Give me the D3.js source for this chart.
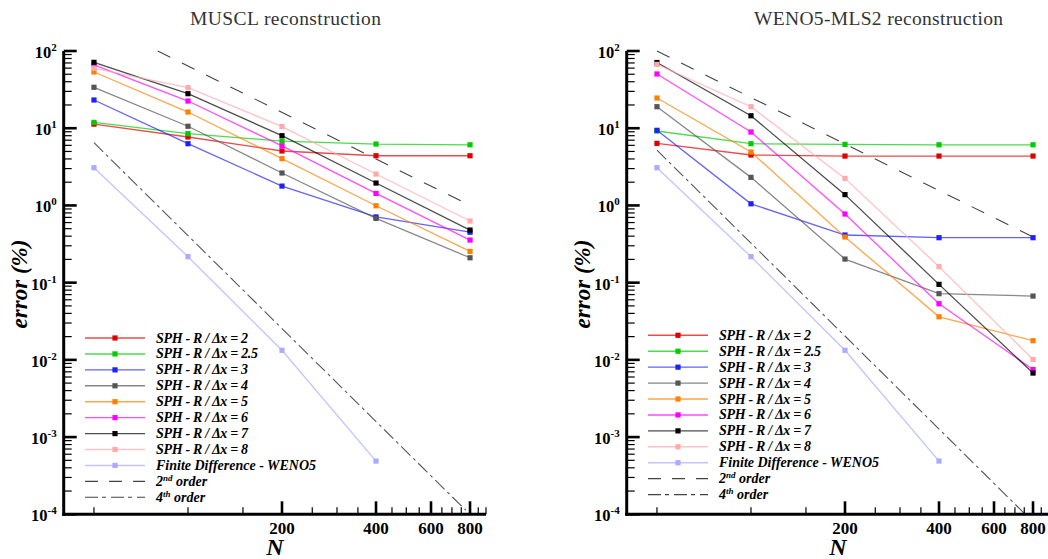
<!DOCTYPE html>
<html>
<head>
<meta charset="utf-8">
<script src="https://cdn.jsdelivr.net/npm/d3@7"></script>
<style>
  html, body { margin: 0; padding: 0; background: #fff; }
  svg { display: block; }
</style>
</head>
<body>
<svg id="chart" width="1048" height="559"></svg>
<script>
// ---------------- DATA ----------------
const N = [50, 100, 200, 400, 800];
const N_FD = [50, 100, 200, 400];

const seriesLabels = [
  "SPH - R / \u0394x = 2",
  "SPH - R / \u0394x = 2.5",
  "SPH - R / \u0394x = 3",
  "SPH - R / \u0394x = 4",
  "SPH - R / \u0394x = 5",
  "SPH - R / \u0394x = 6",
  "SPH - R / \u0394x = 7",
  "SPH - R / \u0394x = 8",
  "Finite Difference - WENO5"
];
const seriesColors = ["#e00000", "#00cc00", "#2020ff", "#555555", "#ff8000", "#ff00ff", "#000000", "#ffaaaa", "#aaaaff"];

// MUSCL reconstruction errors (%)
const muscl_R2  = [11.3, 7.7, 5.07, 4.4, 4.4];
const muscl_R25 = [11.9, 8.5, 6.8, 6.24, 6.1];
const muscl_R3  = [23.2, 6.3, 1.78, 0.71, 0.45];
const muscl_R4  = [33.9, 10.6, 2.63, 0.68, 0.21];
const muscl_R5  = [53.5, 16.2, 4.03, 0.99, 0.254];
const muscl_R6  = [66, 22.5, 5.9, 1.43, 0.356];
const muscl_R7  = [71.3, 28, 8.0, 1.95, 0.48];
const muscl_R8  = [59.7, 33.5, 10.5, 2.55, 0.628];

// WENO5-MLS2 reconstruction errors (%)
const weno_R2  = [6.37, 4.5, 4.36, 4.36, 4.36];
const weno_R25 = [9.2, 6.3, 6.18, 6.1, 6.1];
const weno_R3  = [9.4, 1.05, 0.414, 0.382, 0.382];
const weno_R4  = [19, 2.31, 0.202, 0.072, 0.067];
const weno_R5  = [24.6, 4.92, 0.39, 0.0361, 0.0177];
const weno_R6  = [50.4, 8.93, 0.774, 0.0533, 0.0075];
const weno_R7  = [71, 14.5, 1.38, 0.095, 0.00675];
const weno_R8  = [67, 19, 2.24, 0.161, 0.0101];

// Finite difference WENO5 reference
const fd_WENO5 = [3.08, 0.217, 0.0133, 0.000489];

// Reference slopes [N, error]
const muscl_order2 = [[80, 100], [800, 1]];
const muscl_order4 = [[50, 6.5], [775, 1.13e-4]];
const weno_order2  = [[50, 100], [800, 0.39]];
const weno_order4  = [[50, 5.2], [750, 1.03e-4]];

// Axis ticks
const yMajorExp = [-4, -3, -2, -1, 0, 1, 2];
const xMajorTicks = [200, 400, 600, 800];
const xMinorTicks = [50, 100, 150, 250, 300, 350, 450, 500, 550, 650, 700, 750, 850, 900];

const SERIF = "'Liberation Serif', 'DejaVu Serif', 'Times New Roman', serif";

const panels = [
  { title: "MUSCL reconstruction", titleX: 285.5, titleLen: 191, dx: 0,
    series: [muscl_R2, muscl_R25, muscl_R3, muscl_R4, muscl_R5, muscl_R6, muscl_R7, muscl_R8],
    o2: muscl_order2, o4: muscl_order4, legX: 85, legY: 338 },
  { title: "WENO5-MLS2 reconstruction", titleX: 315.5, titleLen: 249, dx: 563,
    series: [weno_R2, weno_R25, weno_R3, weno_R4, weno_R5, weno_R6, weno_R7, weno_R8],
    o2: weno_order2, o4: weno_order4, legX: 85, legY: 335.3 }
];

// ---------------- DRAW ----------------
const svg = d3.select("#chart").attr("font-family", SERIF);

panels.forEach(p => {
  const g = svg.append("g").attr("transform", `translate(${p.dx},0)`);
  const x = d3.scaleLog().domain([40, 900]).range([63.7, 486]);
  const y = d3.scaleLog().domain([1e-4, 1e2]).range([514.3, 51]);
  const x0 = x.range()[0], x1 = x.range()[1];
  const y0 = y.range()[0], y1 = y.range()[1];

  // Title
  g.append("text").attr("x", p.titleX).attr("y", 25)
    .attr("text-anchor", "middle").attr("font-size", 19.5).attr("fill", "#333")
    .attr("textLength", p.titleLen).attr("lengthAdjust", "spacing")
    .attr("font-family", SERIF)
    .text(p.title);

  // Reference lines
  const line = d3.line().x(d => x(d[0])).y(d => y(d[1]));
  g.append("path").datum(p.o2).attr("d", line)
    .attr("fill", "none").attr("stroke", "#444").attr("stroke-width", 1.1)
    .attr("stroke-dasharray", "14,13");
  g.append("path").datum(p.o4).attr("d", line)
    .attr("fill", "none").attr("stroke", "#555").attr("stroke-width", 1.1)
    .attr("stroke-dasharray", "13,4,3,4");

  // Series
  const all = p.series.map((s, i) => ({ vals: s.map((v, j) => [N[j], v]), color: seriesColors[i] }));
  all.push({ vals: fd_WENO5.map((v, j) => [N_FD[j], v]), color: seriesColors[8] });

  all.forEach(s => {
    g.append("path").datum(s.vals).attr("d", line)
      .attr("fill", "none").attr("stroke", s.color).attr("stroke-width", 1.3)
      .attr("stroke-opacity", 0.7);
  });
  all.forEach(s => {
    g.selectAll(null).data(s.vals).enter().append("rect")
      .attr("x", d => x(d[0]) - 2.6).attr("y", d => y(d[1]) - 2.6)
      .attr("width", 5.2).attr("height", 5.2).attr("fill", s.color);
  });

  // Y axis ticks
  yMajorExp.forEach(e => {
    const v = Math.pow(10, e);
    g.append("line").attr("x1", x0).attr("x2", x0 + 13).attr("y1", y(v)).attr("y2", y(v))
      .attr("stroke", "#000").attr("stroke-width", 2.6);
    const t = g.append("text").attr("x", x0 - 7).attr("y", y(v) + 7)
      .attr("text-anchor", "end").attr("font-weight", "bold").attr("font-size", 16.5)
      .attr("font-family", SERIF);
    t.append("tspan").text("10");
    t.append("tspan").attr("dy", -7).attr("font-size", 11).text(String(e));
    if (e < 2) {
      for (let m = 2; m <= 9; m++) {
        const vv = m * v;
        g.append("line").attr("x1", x0).attr("x2", x0 + 8).attr("y1", y(vv)).attr("y2", y(vv))
          .attr("stroke", "#000").attr("stroke-width", 1.2);
      }
    }
  });

  // X axis ticks
  xMinorTicks.forEach(v => {
    g.append("line").attr("x1", x(v)).attr("x2", x(v)).attr("y1", y0).attr("y2", y0 - 7)
      .attr("stroke", "#000").attr("stroke-width", 1.2);
  });
  xMajorTicks.forEach(v => {
    g.append("line").attr("x1", x(v)).attr("x2", x(v)).attr("y1", y0).attr("y2", y0 - 13)
      .attr("stroke", "#000").attr("stroke-width", 2.6);
    g.append("text").attr("x", x(v)).attr("y", 533.5)
      .attr("text-anchor", "middle").attr("font-weight", "bold").attr("font-size", 17)
      .attr("font-family", SERIF)
      .text(v);
  });

  // Axis lines
  g.append("line").attr("x1", x0).attr("x2", x0).attr("y1", y1).attr("y2", y0 + 1.5)
    .attr("stroke", "#000").attr("stroke-width", 3);
  g.append("line").attr("x1", x0 - 1.5).attr("x2", x1).attr("y1", y0).attr("y2", y0)
    .attr("stroke", "#000").attr("stroke-width", 3);

  // Axis titles
  g.append("text").attr("transform", `translate(26.5,284) rotate(-90)`)
    .attr("text-anchor", "middle").attr("font-weight", "bold").attr("font-style", "italic")
    .attr("font-family", SERIF)
    .attr("font-size", 23).text("error (%)");
  g.append("text").attr("x", 275).attr("y", 555)
    .attr("text-anchor", "middle").attr("font-weight", "bold").attr("font-style", "italic")
    .attr("font-family", SERIF)
    .attr("font-size", 24).text("N");

  // Legend
  const rowH = 15.93;
  seriesLabels.forEach((lab, i) => {
    const yy = p.legY + i * rowH;
    g.append("line").attr("x1", p.legX).attr("x2", p.legX + 60).attr("y1", yy).attr("y2", yy)
      .attr("stroke", seriesColors[i]).attr("stroke-width", 1.4).attr("stroke-opacity", 0.7);
    g.append("rect").attr("x", p.legX + 30 - 2.6).attr("y", yy - 2.6)
      .attr("width", 5.2).attr("height", 5.2).attr("fill", seriesColors[i]);
    const t = g.append("text").attr("x", p.legX + 71).attr("y", yy + 4.5)
      .attr("font-weight", "bold").attr("font-style", "italic").attr("font-size", 14)
      .attr("font-family", SERIF)
      .text(lab);
    // SPH labels are set wider (spaced out) in the reference
    if (i < 8) t.attr("textLength", 92 + 5 * (lab.length - 16)).attr("lengthAdjust", "spacing");
  });

  const refLeg = [["2", "nd"], ["4", "th"]];
  refLeg.forEach((r, k) => {
    const yy = p.legY + (9 + k) * rowH;
    g.append("line").attr("x1", p.legX).attr("x2", p.legX + 60).attr("y1", yy).attr("y2", yy)
      .attr("stroke", "#444").attr("stroke-width", 1.1).attr("stroke-dasharray", k === 0 ? "13,11" : "13,4,4,5");
    const t = g.append("text").attr("x", p.legX + 71).attr("y", yy + 4.5)
      .attr("font-weight", "bold").attr("font-style", "italic").attr("font-size", 14)
      .attr("font-family", SERIF);
    t.append("tspan").text(r[0]);
    t.append("tspan").attr("dy", -5).attr("font-size", 9).text(r[1]);
    t.append("tspan").attr("dy", 5).text(" order");
  });
});
</script>
</body>
</html>
